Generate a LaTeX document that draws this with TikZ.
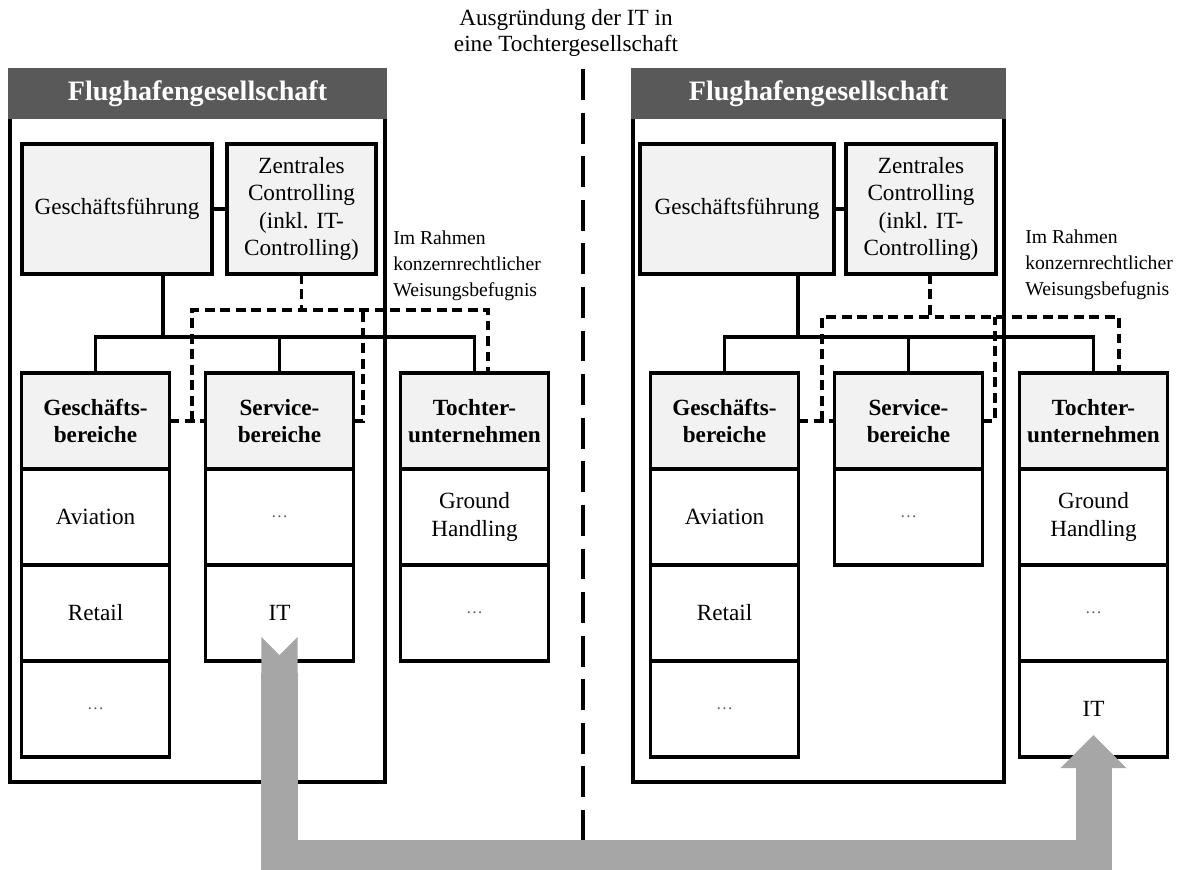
\documentclass[tikz,border=0pt]{standalone}
\usepackage{fontspec}
\setmainfont{Liberation Serif}
\usepackage{tikz}
\usetikzlibrary{arrows.meta,positioning,calc}
\usepackage{xcolor}
\definecolor{ink}{HTML}{000000}
\definecolor{slate}{HTML}{595959}
\definecolor{pale}{HTML}{F2F2F2}
\definecolor{ash}{HTML}{A6A6A6}
\definecolor{dotgrey}{HTML}{606060}
\newcommand{\moredots}{{\fontsize{12}{14}\selectfont\color{dotgrey}\dots}}

\begin{document}
\begin{tikzpicture}[x=0.025cm,y=-0.025cm,
   txt/.style={font=\fontsize{16.5}{19.5}\selectfont},
   frame/.style={draw,line width=2.3pt,minimum height=17.8cm,inner sep=0pt,outer sep=0pt},
   hbar/.style={fill=slate,draw=slate,line width=2.3pt,text=white,font=\fontsize{20}{24}\selectfont\bfseries,
      minimum height=1.175cm,inner sep=0pt,outer sep=0pt,anchor=north},
   b/.style={draw,line width=2.6pt,fill=pale,align=center,txt,inner sep=0pt,outer sep=0pt,minimum height=3.25cm},
   colhead/.style={draw,line width=2.6pt,fill=pale,align=center,font=\fontsize{16.5}{19.5}\selectfont\bfseries,
      inner sep=0pt,outer sep=0pt,minimum width=3.7cm,minimum height=2.4cm},
   cell/.style={draw,line width=2.6pt,fill=white,align=center,txt,inner sep=0pt,outer sep=0pt,
      minimum width=3.7cm,minimum height=2.4cm,below=0pt of #1},
   note/.style={font=\fontsize{14}{18.5}\selectfont,align=left,anchor=west,inner sep=0pt},
   a/.style={line width=2.2pt,ink},
   w/.style={line width=2.2pt,ink,dash pattern=on 7pt off 4pt},
   move/.style={line width=0.9cm,ash,{Triangle Cap[reversed]}-{Triangle[width=1.65cm,length=0.825cm,line width=0pt]}}]
  \useasboundingbox (0,0) rectangle (1180,870);

  \node[txt,align=center,font=\fontsize{16.5}{18.5}\selectfont] (title) at (566,33) {Ausgründung der IT in\\eine Tochtergesellschaft};

  % before
  \node[frame,minimum width=9.375cm] (lframe) at (197.5,426) {};
  \node[hbar,minimum width=9.375cm] (lhead) at (lframe.north) {Flughafengesellschaft};
  \node[b,minimum width=4.75cm] (lgf) at (117,209) {Geschäftsführung};
  \node[b,minimum width=3.725cm] (lzc) at (301.5,209) {Zentrales\\Controlling\\(inkl. IT-\\Controlling)};
  \node[colhead] (lgb) at (95.5,421) {Geschäfts-\\bereiche};
  \node[cell=lgb] (lgb1) {Aviation};
  \node[cell=lgb1] (lgb2) {Retail};
  \node[cell=lgb2] (lgb3) {\moredots};
  \node[colhead] (lsb) at (279.5,421) {Service-\\bereiche};
  \node[cell=lsb] (lsb1) {\moredots};
  \node[cell=lsb1] (lsit) {IT};
  \node[colhead] (ltu) at (474.5,421) {Tochter-\\unternehmen};
  \node[cell=ltu] (ltu1) {Ground\\Handling};
  \node[cell=ltu1] (ltu2) {\moredots};
  \node[note] (lnote) at (393,266) {Im Rahmen\\konzernrechtlicher\\Weisungsbefugnis};

  \coordinate (lbus) at (0,337);
  \coordinate (lgfd) at ([xshift=1.15cm]lgf.south);
  \draw[a] (lgf) -- (lzc);
  \draw[a] (lgfd) -- (lgfd |- lbus);
  \draw[a] (lgb.north) |- (lgfd |- lbus) -| (ltu.north);
  \draw[a] (lsb.north) -- (lsb.north |- lbus);

  \coordinate (lwa) at (192,310);
  \coordinate (lwb) at (363,310);
  \coordinate (ltud) at ([xshift=0.3375cm]ltu.north);
  \draw[w] (lzc.south) -- (lzc.south |- lwa);
  \draw[w] (lgb.east) -- (lsb.west);
  \draw[w] (lwa |- lgb.east) -- (lwa) -| (ltud);
  \draw[w] (lsb.east) -| (lwb);

  % after
  \node[frame,minimum width=9.275cm] (rframe) at (818.5,426) {};
  \node[hbar,minimum width=9.275cm] (rhead) at (rframe.north) {Flughafengesellschaft};
  \node[b,minimum width=4.85cm] (rgf) at (737,209) {Geschäftsführung};
  \node[b,minimum width=3.75cm] (rzc) at (921,209) {Zentrales\\Controlling\\(inkl. IT-\\Controlling)};
  \node[colhead] (rgb) at (724.5,421) {Geschäfts-\\bereiche};
  \node[cell=rgb] (rgb1) {Aviation};
  \node[cell=rgb1] (rgb2) {Retail};
  \node[cell=rgb2] (rgb3) {\moredots};
  \node[colhead] (rsb) at (908.5,421) {Service-\\bereiche};
  \node[cell=rsb] (rsb1) {\moredots};
  \node[colhead] (rtu) at (1093.5,421) {Tochter-\\unternehmen};
  \node[cell=rtu] (rtu1) {Ground\\Handling};
  \node[cell=rtu1] (rtu2) {\moredots};
  \node[cell=rtu2] (rtit) {IT};
  \node[note] (rnote) at (1025,265) {Im Rahmen\\konzernrechtlicher\\Weisungsbefugnis};

  \coordinate (rbus) at (0,337);
  \coordinate (rgfd) at ([xshift=1.525cm]rgf.south);
  \draw[a] (rgf) -- (rzc);
  \draw[a] (rgfd) -- (rgfd |- rbus);
  \draw[a] (rgb.north) |- (rgfd |- rbus) -| (rtu.north);
  \draw[a] (rsb.north) -- (rsb.north |- rbus);

  \coordinate (rwa) at (822,317);
  \coordinate (rwb) at (995,317);
  \coordinate (rzcd) at ([xshift=0.225cm]rzc.south);
  \coordinate (rtud) at ([xshift=0.6375cm]rtu.north);
  \draw[w] (rzcd) -- (rzcd |- rwa);
  \draw[w] (rgb.east) -- (rsb.west);
  \draw[w] (rwa |- rgb.east) -- (rwa) -| (rtud);
  \draw[w] (rsb.east) -| (rwb);

  % divider and move of IT
  \coordinate (dtop) at (583,69);
  \coordinate (dbot) at (583,845);
  \draw[line width=2.2pt,dash pattern=on 22pt off 9pt] (dtop) -- (dbot);

  \coordinate (low) at (0,858);
  \coordinate (from) at ([yshift=-0.6cm]lsit.center);
  \coordinate (to) at ([yshift=-0.65cm]rtit.center);
  \draw[move] (from) -- (from |- low) -| (to);
\end{tikzpicture}
\end{document}
